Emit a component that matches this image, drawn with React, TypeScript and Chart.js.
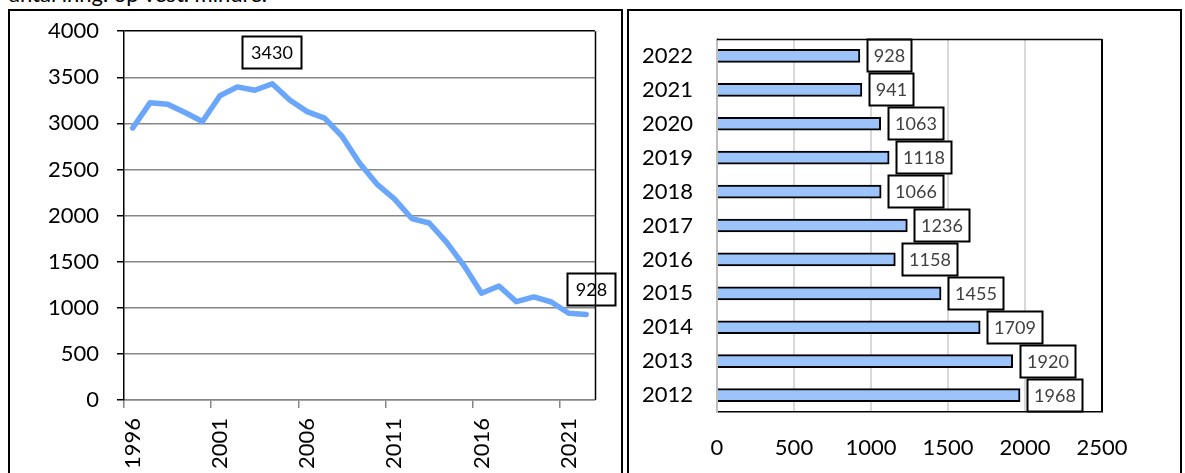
import React, { useEffect, useRef } from "react";
import { Chart, registerables } from "chart.js";

Chart.register(...registerables);

// ---------- data ----------
const lineYears = [
  "1996", "1997", "1998", "1999", "2000", "2001", "2002", "2003", "2004",
  "2005", "2006", "2007", "2008", "2009", "2010", "2011", "2012", "2013",
  "2014", "2015", "2016", "2017", "2018", "2019", "2020", "2021", "2022",
];
const lineCounts = [
  2950, 3225, 3207, 3118, 3021, 3300, 3396, 3360, 3430,
  3253, 3128, 3057, 2861, 2570, 2342, 2182, 1968, 1920,
  1709, 1455, 1158, 1236, 1066, 1118, 1063, 941, 928,
];
const lineLabelYears = ["2004", "2022"];
const lineYMin = 0;
const lineYMax = 4000;
const lineYStep = 500;

const barYears = ["2012", "2013", "2014", "2015", "2016", "2017", "2018", "2019", "2020", "2021", "2022"];
const barCounts = [1968, 1920, 1709, 1455, 1158, 1236, 1066, 1118, 1063, 941, 928];
const barXMin = 0;
const barXMax = 2500;
const barXStep = 500;

const titleText = "antal inng. op vest. mindre.";

// ---------- styles ----------
const FONT = "Lato, 'Open Sans', sans-serif";
const LINE_BLUE = "#69a6fc";
const BAR_BLUE = "#9cc3fa";
const GRID_GRAY = "#868686";
const LIGHT_GRID = "#d9d9d9";

const boxLabelPlugin = {
  id: "boxLabels",
  afterDatasetsDraw(chart: any, _args: any, opts: any) {
    if (!opts || !opts.items) return;
    const ctx = chart.ctx as CanvasRenderingContext2D;
    const meta = chart.getDatasetMeta(0);
    const data = chart.data.datasets[0].data as number[];
    ctx.save();
    ctx.font = opts.font;
    ctx.textAlign = "center";
    ctx.textBaseline = "middle";
    opts.items.forEach((item: any) => {
      const el = meta.data[item.index];
      if (!el) return;
      const text = String(data[item.index]);
      const w = Math.round(ctx.measureText(text).width + opts.padX * 2);
      const h = opts.boxH;
      let cx: number;
      let cy: number;
      if (opts.mode === "above") {
        cx = el.x + (item.dx || 0);
        cy = el.y - item.gap - h / 2;
      } else {
        cx = el.x + item.gap + w / 2;
        cy = el.y;
      }
      const x0 = Math.round(cx - w / 2);
      const y0 = Math.round(cy - h / 2);
      ctx.fillStyle = "#fff";
      ctx.fillRect(x0, y0, w, h);
      ctx.lineWidth = opts.borderWidth;
      ctx.strokeStyle = "#000";
      ctx.strokeRect(x0 + 0.5, y0 + 0.5, w - 1, h - 1);
      ctx.fillStyle = opts.color;
      ctx.fillText(text, x0 + w / 2, y0 + h / 2 + 1);
    });
    ctx.restore();
  },
};

const framePlugin = {
  id: "frame",
  afterDatasetsDraw(chart: any, _args: any, opts: any) {
    const ctx = chart.ctx as CanvasRenderingContext2D;
    const a = chart.chartArea;
    ctx.save();
    ctx.lineWidth = opts.width || 1.5;
    ctx.strokeStyle = "#000";
    ctx.beginPath();
    if (opts.top) {
      ctx.moveTo(a.left, Math.round(a.top) + 0.5);
      ctx.lineTo(a.right, Math.round(a.top) + 0.5);
    }
    if (opts.right) {
      ctx.moveTo(Math.round(a.right) + 0.5, a.top);
      ctx.lineTo(Math.round(a.right) + 0.5, a.bottom);
    }
    ctx.stroke();
    ctx.restore();
  },
};

export default function App() {
  const leftRef = useRef<HTMLCanvasElement | null>(null);
  const rightRef = useRef<HTMLCanvasElement | null>(null);

  useEffect(() => {
    const tickFont = { family: FONT, size: 22 };
    const plain = (v: any) => String(v);

    const left = new Chart(leftRef.current as HTMLCanvasElement, {
      type: "line",
      data: {
        labels: lineYears,
        datasets: [
          {
            data: lineCounts,
            borderColor: LINE_BLUE,
            borderWidth: 5.5,
            pointRadius: 0,
            tension: 0,
            fill: false,
            borderJoinStyle: "round",
            borderCapStyle: "round",
          },
        ],
      },
      options: {
        animation: false,
        responsive: false,
        events: [],
        layout: { padding: { top: 27, right: 23, left: 0, bottom: 0 } },
        plugins: {
          legend: { display: false },
          tooltip: { enabled: false },
          boxLabels: {
            mode: "above",
            font: `18px ${FONT}`,
            color: "#000",
            padX: 9,
            boxH: 33,
            borderWidth: 2,
            items: [
              { index: lineYears.indexOf(lineLabelYears[0]), gap: 15, dx: 0 },
              { index: lineYears.indexOf(lineLabelYears[1]), gap: 8, dx: 5 },
            ],
          },
          frame: { right: true, width: 1.5 },
        } as any,
        scales: {
          x: {
            type: "category",
            offset: true,
            afterFit: (s: any) => {
              s.height = 73;
            },
            grid: {
              offset: true,
              drawOnChartArea: false,
              tickLength: 8,
              lineWidth: 1.5,
              color: GRID_GRAY,
              tickColor: (c: any) =>
                c.index % 5 === 0 && c.index < lineYears.length ? GRID_GRAY : "rgba(0,0,0,0)",
            },
            border: { color: GRID_GRAY, width: 1.5 },
            ticks: {
              autoSkip: false,
              minRotation: 90,
              maxRotation: 90,
              padding: 10,
              color: "#000",
              font: tickFont,
              callback: (_v: any, i: number) => (i % 5 === 0 ? lineYears[i] : ""),
            },
          },
          y: {
            min: lineYMin,
            max: lineYMax,
            afterFit: (s: any) => {
              s.width = 124;
            },
            ticks: { stepSize: lineYStep, padding: 18, color: "#000", font: tickFont, callback: plain },
            grid: {
              color: (c: any) => (c.tick && c.tick.value === lineYMax ? "#000" : GRID_GRAY),
              lineWidth: 1.5,
              tickLength: 7,
              tickColor: "#000",
            },
            border: { color: "#000", width: 1.5 },
          },
        },
      } as any,
      plugins: [boxLabelPlugin, framePlugin],
    });

    const right = new Chart(rightRef.current as HTMLCanvasElement, {
      type: "bar",
      data: {
        labels: barYears,
        datasets: [
          {
            data: barCounts,
            backgroundColor: BAR_BLUE,
            borderColor: "#000",
            borderWidth: 2,
            barThickness: 13,
          },
        ],
      },
      options: {
        indexAxis: "y",
        animation: false,
        responsive: false,
        events: [],
        layout: { padding: { top: 39, right: 83, left: 0, bottom: 0 } },
        plugins: {
          legend: { display: false },
          tooltip: { enabled: false },
          boxLabels: {
            mode: "right",
            font: `18px ${FONT}`,
            color: "#404040",
            padX: 7,
            boxH: 33,
            borderWidth: 2,
            items: barYears.map((_y, i) => ({ index: i, gap: 7 })),
          },
          frame: { top: true, width: 1.5 },
        } as any,
        scales: {
          x: {
            min: barXMin,
            max: barXMax,
            afterFit: (s: any) => {
              s.height = 61;
            },
            ticks: { stepSize: barXStep, padding: 23, color: "#000", font: tickFont, callback: plain },
            grid: {
              drawTicks: false,
              lineWidth: 2,
              color: (c: any) =>
                c.tick && c.tick.value === barXMax
                  ? "#000"
                  : c.tick && c.tick.value === barXMin
                  ? "#bfbfbf"
                  : LIGHT_GRID,
            },
            border: { color: "#000", width: 1.5 },
          },
          y: {
            reverse: true,
            afterFit: (s: any) => {
              s.width = 94;
            },
            ticks: { padding: 24, color: "#000", font: tickFont },
            grid: { drawOnChartArea: false, drawTicks: false },
            border: { color: "#bfbfbf", width: 2 },
          },
        },
      } as any,
      plugins: [boxLabelPlugin, framePlugin],
    });

    return () => {
      left.destroy();
      right.destroy();
    };
  }, []);

  return (
    <div
      style={{
        position: "absolute",
        left: 0,
        top: 0,
        width: 1185,
        height: 473,
        overflow: "hidden",
        background: "#fff",
      }}
    >
      <div
        style={{
          position: "absolute",
          left: 9,
          top: -19,
          font: `22px ${FONT}`,
          lineHeight: "26px",
          color: "#000",
          whiteSpace: "nowrap",
        }}
      >
        {titleText}
      </div>
      <div
        style={{
          position: "absolute",
          left: 8,
          top: 9,
          width: 615,
          height: 500,
          border: "2px solid #000",
          boxSizing: "border-box",
        }}
      />
      <div
        style={{
          position: "absolute",
          left: 627,
          top: 9,
          width: 555,
          height: 500,
          border: "2px solid #000",
          boxSizing: "border-box",
        }}
      />
      <canvas
        ref={leftRef}
        width={623}
        height={473}
        style={{ position: "absolute", left: 0, top: 0, width: 623, height: 473 }}
      />
      <canvas
        ref={rightRef}
        width={562}
        height={473}
        style={{ position: "absolute", left: 623, top: 0, width: 562, height: 473 }}
      />
    </div>
  );
}
